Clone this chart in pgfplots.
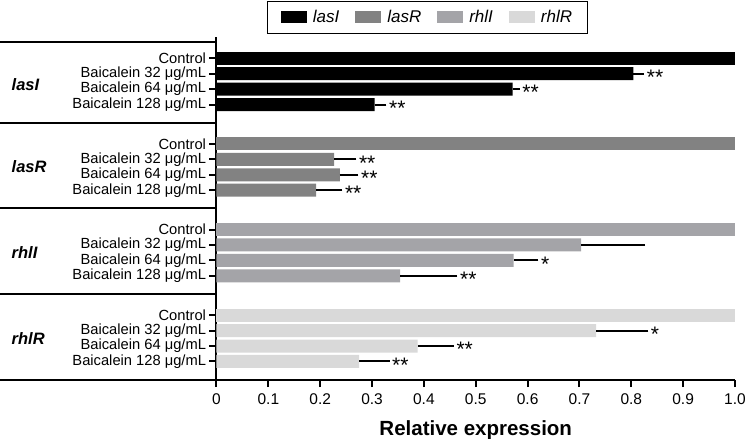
\documentclass[border=0pt]{standalone}
\usepackage{pgfplots}
\pgfplotsset{compat=1.18}
\usepackage{fontspec}
\setmainfont{Liberation Sans}
\definecolor{cLasI}{HTML}{000000}
\definecolor{cLasR}{HTML}{828282}
\definecolor{cRhlI}{HTML}{A4A4A8}
\definecolor{cRhlR}{HTML}{D9D9D9}
\tikzset{gsep/.style={line width=2.5bp},
  grp/.style={anchor=west, inner sep=0pt, font=\bfseries\itshape\fontsize{16.5bp}{18bp}\selectfont}}
\newcommand{\legtxt}[1]{\fontsize{17bp}{19bp}\selectfont\itshape #1}
\begin{document}
\begin{tikzpicture}
\path[use as bounding box] (-216.5bp,-59bp) rectangle (528.5bp,380bp);
\begin{axis}[
  at={(0,0)}, anchor=south west,
  scale only axis, width=518.5bp, height=343bp,
  xmin=0, xmax=1, ymin=-20.85, ymax=1.38,
  axis x line*=bottom, axis y line*=left,
  axis line style={line width=2bp, -},
  clip=false,
  tick align=outside, major tick length=7bp,
  tick style={line width=2bp, black},
  /pgf/number format/assume math mode=true,
  xtick={0,0.1,0.2,0.3,0.4,0.5,0.6,0.7,0.8,0.9,1.0},
  xticklabels={0,0.1,0.2,0.3,0.4,0.5,0.6,0.7,0.8,0.9,1.0},
  xticklabel style={font=\fontsize{15.5bp}{17bp}\selectfont, yshift=-3bp},
  ytick={-19.65,-18.65,-17.65,-16.65,-14.1,-13.1,-12.1,-11.1,-8.55,-7.55,-6.55,-5.55,-3,-2,-1,0},
  yticklabels={Baicalein 128 μg/mL,Baicalein 64 μg/mL,Baicalein 32 μg/mL,Control,
               Baicalein 128 μg/mL,Baicalein 64 μg/mL,Baicalein 32 μg/mL,Control,
               Baicalein 128 μg/mL,Baicalein 64 μg/mL,Baicalein 32 μg/mL,Control,
               Baicalein 128 μg/mL,Baicalein 64 μg/mL,Baicalein 32 μg/mL,Control},
  yticklabel style={font=\fontsize{14.7bp}{16bp}\selectfont},
  xlabel={Relative expression},
  xlabel style={font=\bfseries\fontsize{20.5bp}{22bp}\selectfont, at={(axis description cs:0.5,0)}, anchor=base, yshift=-55bp},
  legend columns=4,
  legend image code/.code={\fill[#1] (0bp,-6bp) rectangle (26bp,6bp); \path[draw=none, fill=none] (30bp,0bp) circle (0pt);},
  legend style={at={(axis description cs:0.0974,1.105)}, anchor=north west,
    draw=black, line width=0.8bp, inner xsep=13.5bp, inner ysep=7bp,
    /tikz/every even column/.append style={column sep=14bp}},
  err/.style={xbar, bar width=13bp, bar shift=0pt, draw=none, forget plot,
    error bars/x dir=plus, error bars/x explicit,
    error bars/error bar style={line width=2bp, black},
    error bars/error mark options={line width=2bp, black, mark size=3.5bp}},
  ctl/.style={xbar, bar width=13bp, bar shift=0pt, draw=none, forget plot},
]
% controls
\addplot[ctl, fill=cLasI] coordinates {(1.0,0)};
\addplot[ctl, fill=cLasR] coordinates {(1.0,-5.55)};
\addplot[ctl, fill=cRhlI] coordinates {(1.0,-11.1)};
\addplot[ctl, fill=cRhlR] coordinates {(1.0,-16.65)};
% treatments
\addplot[err, fill=cLasI] table[x=x, y=y, x error=e] {
x y e
0.804 -1 0.014
0.571 -2 0.007
0.305 -3 0.016
};
\addplot[err, fill=cLasR] table[x=x, y=y, x error=e] {
x y e
0.227 -6.55 0.036
0.238 -7.55 0.029
0.192 -8.55 0.044
};
\addplot[err, fill=cRhlI] table[x=x, y=y, x error=e] {
x y e
0.703 -12.1 0.117
0.573 -13.1 0.041
0.354 -14.1 0.104
};
\addplot[err, fill=cRhlR] table[x=x, y=y, x error=e] {
x y e
0.732 -17.65 0.094
0.388 -18.65 0.063
0.275 -19.65 0.052
};
% significance stars
\addplot[draw=none, mark=none, forget plot, nodes near coords, point meta=explicit symbolic,
  nodes near coords style={anchor=west, inner sep=0pt, xshift=6bp, yshift=-3.5bp, font=\fontsize{21bp}{22bp}\selectfont}]
  table[x=x, y=y, meta=s] {
x y s
0.818 -1 **
0.578 -2 **
0.321 -3 **
0.263 -6.55 **
0.267 -7.55 **
0.236 -8.55 **
0.614 -13.1 *
0.458 -14.1 **
0.826 -17.65 *
0.451 -18.65 **
0.327 -19.65 **
};
\addlegendimage{fill=cLasI, draw=none}\addlegendentry{\legtxt{lasI}}
\addlegendimage{fill=cLasR, draw=none}\addlegendentry{\legtxt{lasR}}
\addlegendimage{fill=cRhlI, draw=none}\addlegendentry{\legtxt{rhlI}}
\addlegendimage{fill=cRhlR, draw=none}\addlegendentry{\legtxt{rhlR}}
% group separators
\draw[gsep] ([xshift=-216.5bp]axis cs:0,1.056) -- (axis cs:0,1.056);
\draw[gsep] ([xshift=-216.5bp]axis cs:0,-4.19) -- (axis cs:0,-4.19);
\draw[gsep] ([xshift=-216.5bp]axis cs:0,-9.70) -- (axis cs:0,-9.70);
\draw[gsep] ([xshift=-216.5bp]axis cs:0,-15.28) -- (axis cs:0,-15.28);
\draw[gsep] ([xshift=-216.5bp]axis cs:0,-20.85) -- (axis cs:0,-20.85);
\node[grp] at ([xshift=-205bp]axis cs:0,-1.7) {lasI};
\node[grp] at ([xshift=-205bp]axis cs:0,-7.05) {lasR};
\node[grp] at ([xshift=-205bp]axis cs:0,-12.6) {rhlI};
\node[grp] at ([xshift=-205bp]axis cs:0,-18.15) {rhlR};
\end{axis}
\end{tikzpicture}
\end{document}
